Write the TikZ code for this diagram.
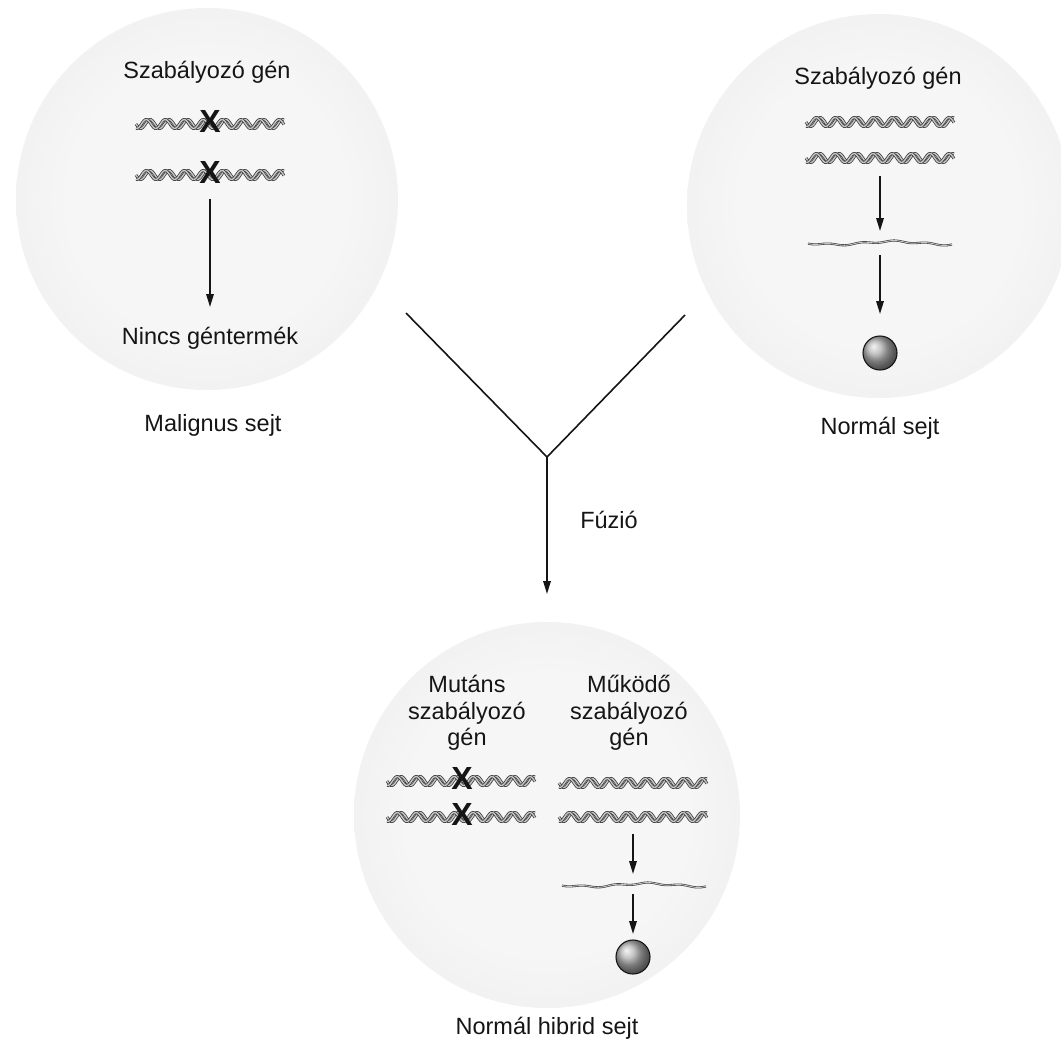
\documentclass[tikz,border=0pt]{standalone}
\usepackage{fontspec}
\setmainfont{Liberation Sans}
\usetikzlibrary{arrows.meta}

\definecolor{ink}{HTML}{151515}
\definecolor{cellA}{gray}{0.965}
\definecolor{cellB}{gray}{0.92}
\definecolor{cellC}{gray}{0.84}
\definecolor{cellD}{gray}{0.79}

% soft sphere-like fill for the cells
\pgfdeclareradialshading{cellshade}{\pgfpoint{0bp}{0bp}}{%
  color(0bp)=(cellA); color(18bp)=(cellA); color(36bp)=(cellB);
  color(46bp)=(cellC); color(50bp)=(cellD); color(100bp)=(cellD)}

\begin{document}
\begin{tikzpicture}[x=1pt,y=-1pt,
  cell/.style={circle, minimum size=#1, inner sep=0pt, shading=cellshade},
  lbl/.style={font=\fontsize{23.5}{26.5}\selectfont, text=ink, align=center, inner sep=0pt},
  xmark/.style={font=\fontsize{32}{32}\selectfont\bfseries, text=ink, inner sep=0pt},
  arr/.style={line width=1.6pt, draw=ink, -{Triangle[length=13pt,width=7.5pt]}},
  fuse/.style={line width=1.6pt, draw=ink},
  strand/.style={draw=gray!45!black, line width=0.75pt, double=gray!45, double distance=1.4pt},
  mrna/.style={draw=gray!45!black, line width=0.6pt, double=gray!45, double distance=0.9pt},
  product/.style={circle, minimum size=34pt, inner sep=0pt, draw=ink, line width=1.1pt,
    shading=ball, ball color=gray!60},
  gene/.pic={
    \draw[strand] plot[domain=0:148, samples=110, smooth] (\x, {4.5*sin(19*\x)});
    \draw[strand] plot[domain=0:148, samples=110, smooth] (\x, {4.5*sin(19*\x+75)});
  },
  transcript/.pic={
    \draw[mrna] plot[domain=0:144, samples=60, smooth]
      (\x, {1.6*sin(3.2*\x)+0.9*sin(11*\x+40)});
  }]

\fill[white] (0,0) rectangle (1061,1042);
\useasboundingbox (0,0) rectangle (1061,1042);

% ---- cells ----
\node[cell=382pt] (malig) at (207,199) {};
\node[cell=384pt] (norm)  at (879,206) {};
\node[cell=386pt] (hyb)   at (547,815) {};

% ---- malignant cell ----
\node[lbl] (mtitle) at (207,72) {Szabályozó gén};
\pic (mg1) at (136,124) {gene};
\pic (mg2) at (136,175) {gene};
\node[xmark] (mx1) at (210,121) {X};
\node[xmark] (mx2) at (210,172) {X};
\coordinate (ms) at (210,199);
\coordinate (me) at (210,307);
\draw[arr] (ms) -- (me);
\node[lbl] (none) at (210,338) {Nincs géntermék};
\node[lbl] (mname) at (213,425) {Malignus sejt};

% ---- normal cell ----
\node[lbl] (ntitle) at (878,78) {Szabályozó gén};
\pic (ng1) at (806,122) {gene};
\pic (ng2) at (806,158) {gene};
\coordinate (ns1) at (880,176);
\coordinate (ne1) at (880,231);
\draw[arr] (ns1) -- (ne1);
\pic (nm) at (808,243) {transcript};
\coordinate (ns2) at (880,255);
\coordinate (ne2) at (880,314);
\draw[arr] (ns2) -- (ne2);
\node[product] (nprod) at (880,353) {};
\node[lbl] (nname) at (880,428) {Normál sejt};

% ---- fusion ----
\coordinate (yl) at (406,313);
\coordinate (yr) at (685,315);
\coordinate (yj) at (547,457);
\coordinate (ye) at (547,594);
\draw[fuse] (yl) -- (yj) -- (yr);
\draw[arr] (yj) -- (ye);
\node[lbl] (fuz) at (609,520) {Fúzió};

% ---- hybrid cell ----
\node[lbl] (hmut) at (467,713) {Mutáns\\szabályozó\\gén};
\node[lbl] (hwork) at (629,713) {Működő\\szabályozó\\gén};
\pic (hg1) at (387,781) {gene};
\pic (hg2) at (387,817) {gene};
\node[xmark] (hx1) at (462,778) {X};
\node[xmark] (hx2) at (462,814) {X};
\pic (hg3) at (559,783) {gene};
\pic (hg4) at (559,817) {gene};
\coordinate (hs1) at (633,834);
\coordinate (he1) at (633,874);
\draw[arr] (hs1) -- (he1);
\pic (hm) at (562,885) {transcript};
\coordinate (hs2) at (633,894);
\coordinate (he2) at (633,934);
\draw[arr] (hs2) -- (he2);
\node[product] (hprod) at (633,957) {};
\node[lbl] (hname) at (547,1028) {Normál hibrid sejt};
\end{tikzpicture}
\end{document}
